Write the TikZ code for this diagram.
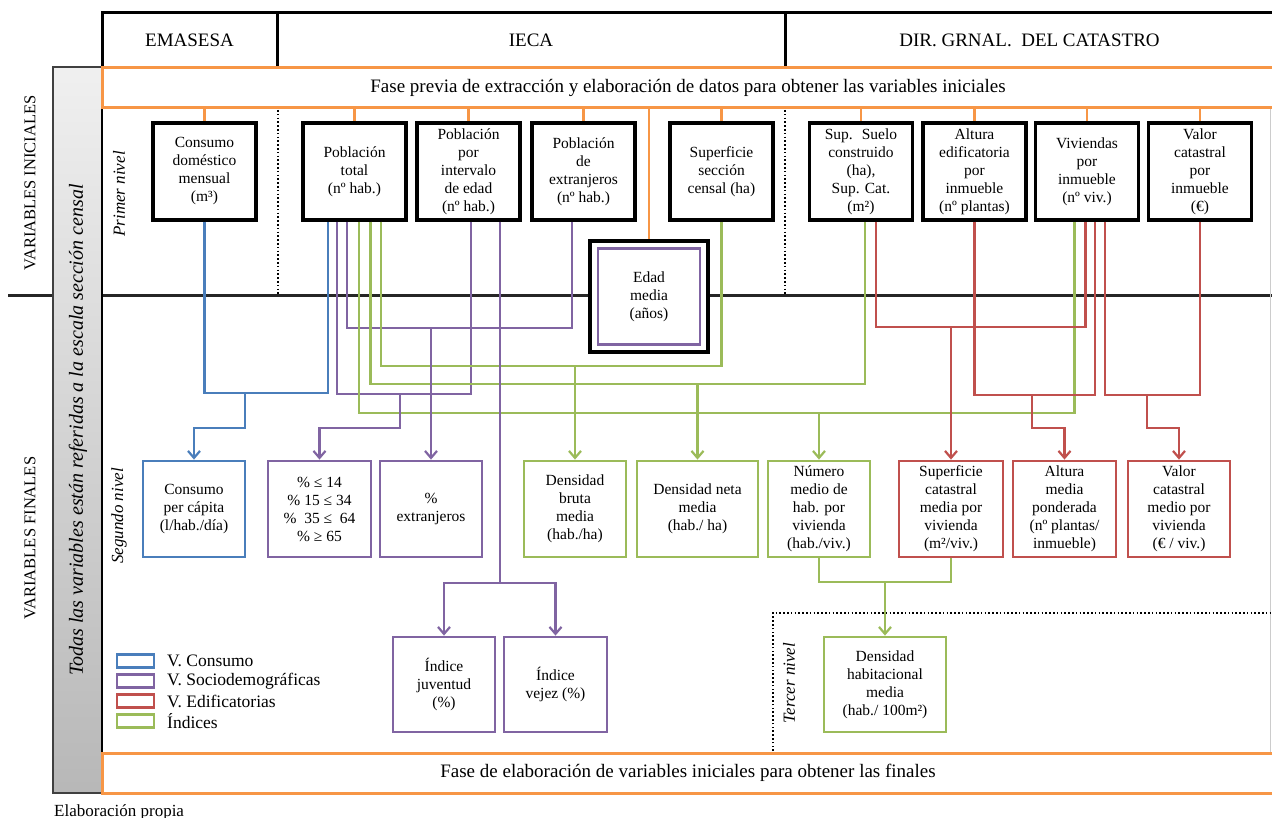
\documentclass[tikz,border=0pt]{standalone}
\usepackage{fontspec}
\setmainfont{Liberation Serif}
\usetikzlibrary{arrows.meta}
\definecolor{cblue}{RGB}{74,126,187}
\definecolor{cpurple}{RGB}{128,100,162}
\definecolor{cred}{RGB}{192,80,77}
\definecolor{cgreen}{RGB}{155,187,89}
\definecolor{corange}{RGB}{247,150,70}
\newcommand\bxfont{\fontsize{15.5}{18}\selectfont}
\newcommand\hdfont{\fontsize{19}{22}\selectfont}
\newcommand\fsfont{\fontsize{19}{22}\selectfont}
\newcommand\lgfont{\fontsize{17.5}{20}\selectfont}
\newcommand\lvfont{\fontsize{17}{20}\selectfont\itshape}
\newcommand\sdfont{\fontsize{16.5}{19}\selectfont}
\tikzset{
  topbox/.style={draw=black, line width=3.2pt, fill=white, minimum width=103pt, minimum height=97pt, align=center, inner sep=1pt, font=\bxfont},
  finbox/.style={line width=2.8pt, fill=white, minimum height=96pt, minimum width=102pt, align=center, inner sep=1pt, font=\bxfont},
  hdbox/.style={draw=black, line width=3pt, minimum height=55pt, font=\hdfont},
  band/.style={draw=corange, line width=3pt, fill=white, minimum height=40pt, font=\fsfont},
  conn/.style={line width=2.2pt},
  arr/.style={line width=2.2pt, -{Straight Barb[length=7pt,width=12pt]}},
  orng/.style={draw=corange, line width=2.5pt},
  dots/.style={line width=2pt, dash pattern=on 1.6pt off 2.2pt},
  lvl/.style={font=\lvfont, rotate=90},
  legbox/.style={line width=2.5pt, minimum width=37pt, minimum height=13pt, inner sep=0pt},
  legtext/.style={anchor=west, font=\lgfont, inner sep=0pt},
}
\begin{document}
\begin{tikzpicture}[x=1pt,y=-1pt]
\useasboundingbox[fill=white] (0,0) rectangle (1272,818);

% main horizontal divider and left vertical
\draw[line width=3pt, black!85] (8,296) -- (1280,296);
\draw[line width=0.8pt, black!20] (1270,108) -- (1270,753);

% grey side bar
\shade[top color=black!6, bottom color=black!28] (53,67) rectangle (102,793);
\draw[line width=1.5pt, black!75] (53,67) rectangle (102,793);
\node[rotate=90, font=\fontsize{20}{24}\selectfont\itshape] (todas) at (78,430) {Todas las variables están referidas a la escala sección censal};
\draw[line width=2.5pt] (102,108) -- (102,753);

% side labels
\node[rotate=90, font=\sdfont] (vini) at (30,183) {VARIABLES INICIALES};
\node[rotate=90, font=\sdfont] (vfin) at (30,538) {VARIABLES FINALES};
\node[anchor=base west, font=\fontsize{17}{19}\selectfont, inner sep=0pt] (elab) at (54,816) {Elaboración propia};

% header
\node[hdbox, minimum width=175pt] (h1) at (189.5,40.5) {EMASESA};
\node[hdbox, minimum width=508pt] (h2) at (531,40.5) {IECA};
\node[hdbox, minimum width=489pt] (h3) at (1029.5,40.5) {DIR. GRNAL.~ DEL CATASTRO};

% orange bands
\node[band, minimum width=1172pt] (fase1) at (688,88) {Fase previa de extracción y elaboración de datos para obtener las variables iniciales};
\node[band, minimum width=1172pt] (fase2) at (688,773) {Fase de elaboración de variables iniciales para obtener las finales};

% dotted separators
\draw[dots] (278,110) -- (278,295);
\draw[dots] (785,110) -- (785,295);
\draw[dots] (773,751) -- (773,613) -- (1280,613);

% level labels
\node[lvl] (n1) at (119,194) {Primer nivel};
\node[lvl] (n2) at (119,516) {Segundo nivel};
\node[lvl] (n3) at (789,683) {Tercer nivel};

% first level boxes
\node[topbox] (cons) at (204.5,171.5) {Consumo\\doméstico\\mensual\\(m³)};
\node[topbox] (ptot) at (354.5,171.5) {Población\\total\\(nº hab.)};
\node[topbox] (pint) at (468.5,171.5) {Población\\por\\intervalo\\de edad\\(nº hab.)};
\node[topbox] (pext) at (583.5,171.5) {Población\\de\\extranjeros\\(nº hab.)};
\node[topbox] (sup) at (721.5,171.5) {Superficie\\sección\\censal (ha)};
\node[topbox] (ssue) at (861,171.5) {Sup.~ Suelo\\construido\\(ha),\\Sup. Cat.\\(m²)};
\node[topbox] (alt) at (974.5,171.5) {Altura\\edificatoria\\por\\inmueble\\(nº plantas)};
\node[topbox] (viv) at (1087,171.5) {Viviendas\\por\\inmueble\\(nº viv.)};
\node[topbox] (val) at (1200,171.5) {Valor\\catastral\\por\\inmueble\\(€)};

% orange stubs
\foreach \b in {cons,ptot,pint,pext,sup,ssue,alt,viv,val}
  \draw[orng] (\b.north |- fase1.south) -- (\b.north);

% second level boxes
\node[finbox, draw=cblue] (cpc) at (194,509) {Consumo\\per cápita\\(l/hab./día)};
\node[finbox, draw=cpurple, minimum width=103pt] (p14) at (319.5,509) {\% ≤ 14\\\% 15 ≤ 34\\\%~~35 ≤~~64\\\% ≥ 65};
\node[finbox, draw=cpurple] (pex2) at (431,509) {\%\\extranjeros};
\node[finbox, draw=cgreen] (dbm) at (575,509) {Densidad\\bruta\\media\\(hab./ha)};
\node[finbox, draw=cgreen, minimum width=121pt] (dnm) at (697.5,509) {Densidad neta\\media\\(hab./ ha)};
\node[finbox, draw=cgreen] (nmh) at (819,509) {Número\\medio de\\hab. por\\vivienda\\(hab./viv.)};
\node[finbox, draw=cred, minimum width=104pt] (scv) at (951,509) {Superficie\\catastral\\media por\\vivienda\\(m²/viv.)};
\node[finbox, draw=cred, minimum width=103pt] (amp) at (1064.5,509) {Altura\\media\\ponderada\\(nº plantas/\\inmueble)};
\node[finbox, draw=cred] (vcm) at (1179,509) {Valor\\catastral\\medio por\\vivienda\\(€ / viv.)};

% third level boxes
\node[finbox, draw=cpurple, minimum height=95pt] (ij) at (444,684.5) {Índice\\juventud\\(\%)};
\node[finbox, draw=cpurple, minimum height=95pt, minimum width=103pt] (iv) at (555.5,684.5) {Índice\\vejez (\%)};
\node[finbox, draw=cgreen, minimum height=95pt, minimum width=122pt] (dh) at (885,684.5) {Densidad\\habitacional\\media\\(hab./ 100m²)};

% ports
\coordinate (pB)  at ([xshift=-26.5pt]ptot.south);
\coordinate (pP1) at ([xshift=-17.5pt]ptot.south);
\coordinate (pP2) at ([xshift=-7.5pt]ptot.south);
\coordinate (pG1) at ([xshift=4.5pt]ptot.south);
\coordinate (pG2) at ([xshift=16pt]ptot.south);
\coordinate (pG3) at ([xshift=26.5pt]ptot.south);
\coordinate (iP1) at ([xshift=2.5pt]pint.south);
\coordinate (iP2) at ([xshift=31.5pt]pint.south);
\coordinate (eP)  at ([xshift=-11.5pt]pext.south);
\coordinate (sG)  at ([xshift=4pt]ssue.south);
\coordinate (sR)  at ([xshift=15pt]ssue.south);
\coordinate (vG)  at ([xshift=-12.5pt]viv.south);
\coordinate (vR1) at ([xshift=-1.5pt]viv.south);
\coordinate (vR2) at ([xshift=8pt]viv.south);
\coordinate (vR3) at ([xshift=18pt]viv.south);

% junctions
\coordinate (jB)  at (245,393);
\coordinate (jPA) at (400,394);
\coordinate (jPB) at (431,328);
\coordinate (jG1) at (575,366);
\coordinate (jG2) at (697.5,384);
\coordinate (jG3) at (819,413);
\coordinate (jR1) at (951,327);
\coordinate (jR2) at (1032,395);
\coordinate (jR3) at (1147,395);
\coordinate (jPC) at (500,583);
\coordinate (jG4) at (885,582);
\coordinate (kB)  at (0,428);

% merging connectors
\draw[conn,cblue] (cons.south) |- (pB |- jB) -- (pB);
\draw[conn,cpurple] (pP1) |- (iP1 |- jPA) -- (iP1);
\draw[conn,cpurple] (pP2) |- (eP |- jPB) -- (eP);
\draw[conn,cgreen] (pG3) |- (sup.south |- jG1) -- (sup.south);
\draw[conn,cgreen] (pG2) |- (sG |- jG2) -- (sG);
\draw[conn,cgreen] (pG1) |- (vG |- jG3) -- (vG);
\draw[conn,cred] (sR) |- (vR1 |- jR1) -- (vR1);
\draw[conn,cred] (alt.south) |- (vR2 |- jR2) -- (vR2);
\draw[conn,cred] (vR3) |- (val.south |- jR3) -- (val.south);
\draw[conn,cpurple] (iP2) -- (jPC);
\draw[conn,cgreen] (nmh.south) |- (scv.south |- jG4) -- (scv.south);

% arrows
\draw[arr,cblue] (jB) |- (cpc.north |- kB) -- (cpc.north);
\draw[arr,cpurple] (jPA) |- (p14.north |- kB) -- (p14.north);
\draw[arr,cpurple] (jPB) -- (pex2.north);
\draw[arr,cgreen] (jG1) -- (dbm.north);
\draw[arr,cgreen] (jG2) -- (dnm.north);
\draw[arr,cgreen] (jG3) -- (nmh.north);
\draw[arr,cred] (jR1) -- (scv.north);
\draw[arr,cred] (jR2) |- (amp.north |- kB) -- (amp.north);
\draw[arr,cred] (jR3) |- (vcm.north |- kB) -- (vcm.north);
\draw[arr,cpurple] (jPC) -| (ij.north);
\draw[arr,cpurple] (jPC) -| (iv.north);
\draw[arr,cgreen] (jG4) -- (dh.north);

% edad media
\node[draw=black, line width=3.2pt, fill=white, minimum width=118pt, minimum height=111pt] (edad) at (649,296.5) {};
\node[draw=cpurple, line width=2.8pt, minimum width=102pt, minimum height=96pt, align=center, font=\bxfont, inner sep=1pt] (edadin) at (649,296.5) {Edad\\media\\(años)};
\draw[orng] (edad.north |- fase1.south) -- (edad.north);

% legend
\node[legbox, draw=cblue] (lb1) at (135.5,661) {};
\node[legbox, draw=cpurple] (lb2) at (135.5,681) {};
\node[legbox, draw=cred] (lb3) at (135.5,701) {};
\node[legbox, draw=cgreen] (lb4) at (135.5,721) {};
\node[legtext] (lt1) at (167,661) {V. Consumo};
\node[legtext] (lt2) at (167,681) {V. Sociodemográficas};
\node[legtext] (lt3) at (167,701) {V. Edificatorias};
\node[legtext] (lt4) at (167,721) {Índices};
\end{tikzpicture}
\end{document}
